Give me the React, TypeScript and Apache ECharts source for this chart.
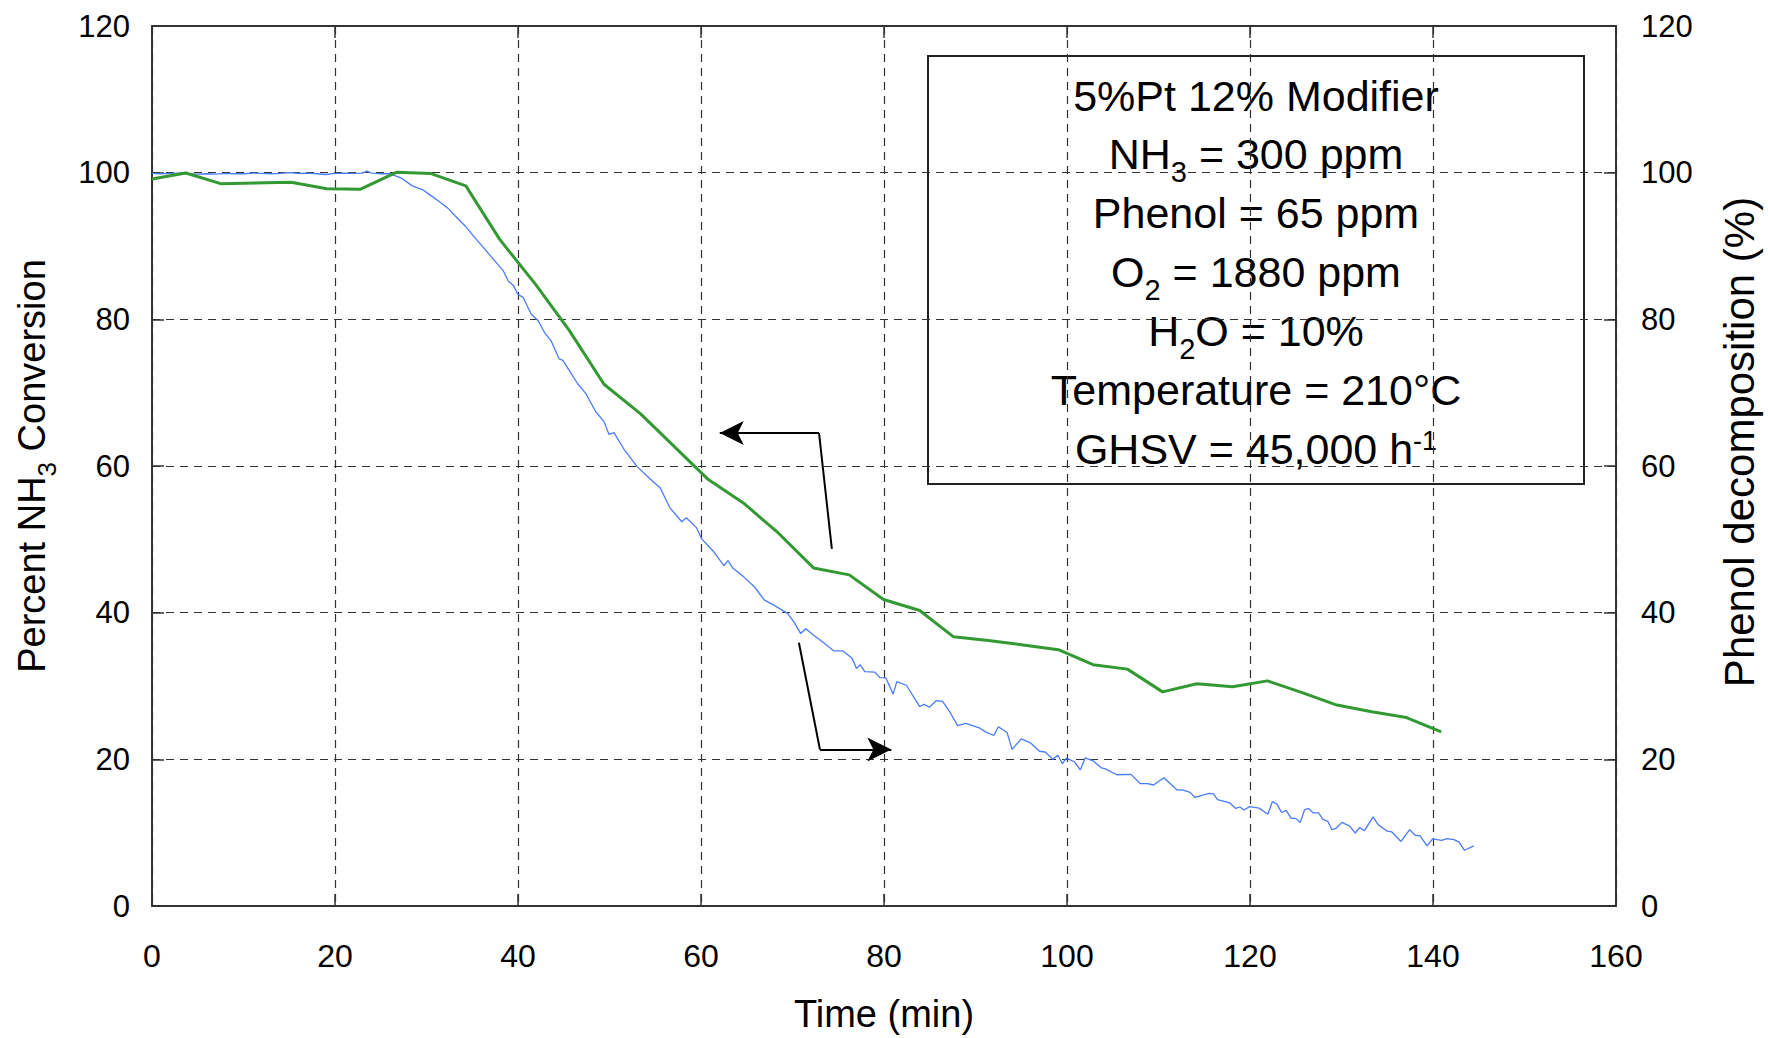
import React, { useEffect, useRef } from "react";
import * as echarts from "echarts";

// ---------- data ----------
const blueTime = [
  0, 1, 2, 3, 4, 5, 6, 7, 8, 9, 10, 11, 12, 13, 14, 15, 16, 17, 18, 19, 20, 21, 22, 23, 23.5, 24, 25, 26,
  27.2, 28.45, 29.55, 30.45, 31.35, 32.3, 33.15, 34.25, 35.3, 36.25,
  37.3, 38.4, 38.95, 39.5, 40.0, 40.55, 41.45, 42.2, 42.9, 43.6,
  44.5, 44.9, 45.6, 46.5, 47.4, 48.5, 49.4, 49.95, 50.5, 51.55,
  53.0, 54.3, 55.55, 56.6, 57.9, 58.4, 59.5, 60.05, 61.4, 62.5,
  62.95, 63.5, 64.7, 65.85, 66.9, 68.0, 69.45, 70.15, 70.9, 71.45,
  72.35, 73.3, 74.5, 75.5, 76.5, 77.0, 77.4, 77.9, 79.0, 79.55,
  80.2, 81.0, 81.4, 82.45, 83.9, 84.4, 84.95, 85.7, 86.4, 87.15,
  88.05, 88.95, 90.4, 91.1, 92.0, 92.5, 93.45, 94.0, 95.0, 96.0,
  97.0, 97.6, 98.45, 99.0, 99.5, 99.95, 100.85, 101.45, 102.0, 102.85,
  103.75, 104.2, 105.45, 107.0, 108.0, 108.8, 109.45, 110.6, 112.0, 112.7,
  113.45, 114.0, 115.5, 116.0, 116.45, 117.8, 118.45, 118.9, 119.35, 119.95,
  121.0, 121.95, 122.45, 122.95, 123.45, 123.95, 124.5, 125.0, 125.5, 125.95,
  126.4, 126.9, 127.5, 127.95, 128.5, 128.95, 129.4, 130.05, 130.9, 131.5,
  132.0, 132.5, 133.45, 134.0, 135.0, 135.5, 136.5, 137.45, 138.05, 138.6,
  139.35, 139.95, 140.95, 141.5, 142.3, 142.85, 143.45, 144.45,
];
const bluePhenol = [
  99.9, 99.85, 99.9, 99.95, 99.85, 99.8, 99.85, 99.8, 99.9, 99.85, 99.85, 99.95, 99.9, 99.85, 99.9, 100.0,
  99.9, 99.95, 99.85, 99.75, 99.9, 99.95, 99.9, 99.95, 100.2, 99.95, 99.85, 99.85,
  99.3, 98.2, 97.7, 96.9, 96.1, 95.2, 94.1, 92.7, 91.1, 89.75,
  88.2, 86.6, 85.2, 84.6, 83.4, 83.0, 80.7, 79.8, 78.2, 77.1,
  74.6, 74.4, 73.05, 71.25, 69.9, 67.4, 66.05, 64.3, 64.55, 62.35,
  59.95, 58.4, 57.0, 54.3, 52.4, 52.95, 51.6, 50.1, 48.3, 46.4,
  47.1, 46.05, 44.85, 43.5, 41.75, 41.0, 39.9, 38.75, 37.15, 37.8,
  36.9, 36.0, 34.8, 34.8, 33.8, 32.4, 32.9, 31.95, 31.9, 31.15,
  31.1, 28.9, 30.6, 30.1, 27.2, 27.5, 27.1, 28.0, 27.9, 26.55,
  24.6, 24.9, 24.3, 23.75, 23.25, 24.45, 23.65, 21.35, 22.8, 22.25,
  21.1, 21.0, 20.0, 20.55, 19.4, 20.2, 19.6, 18.55, 20.2, 19.8,
  18.85, 18.7, 17.9, 17.95, 16.7, 16.7, 16.5, 17.5, 15.85, 15.8,
  15.5, 14.8, 15.35, 15.3, 14.5, 14.05, 13.3, 13.5, 13.1, 13.55,
  13.35, 12.5, 14.25, 13.9, 12.75, 13.05, 11.95, 11.95, 11.4, 13.1,
  13.3, 12.7, 12.7, 11.85, 11.55, 10.4, 10.6, 11.4, 10.9, 9.95,
  10.7, 10.25, 12.15, 11.1, 10.2, 10.1, 8.8, 10.4, 9.65, 9.55,
  8.2, 9.15, 8.95, 9.2, 9.05, 8.7, 7.6, 8.2,
];

const greenTime = [
  0, 3.7, 7.5, 15.2, 19.1, 22.8, 26.7, 30.5, 34.3, 38.0, 41.9, 45.6, 49.4, 53.4, 57.2, 60.8, 64.75, 68.5,
  72.3, 76.2, 79.95, 83.9, 87.6, 91.4, 95.2, 99.05, 102.85, 106.6, 110.45, 114.2, 118.1, 121.9, 125.7,
  129.5, 133.3, 137.1, 140.9,
];
const greenNH3 = [
  99.15, 99.95, 98.5, 98.7, 97.8, 97.75, 100.05, 99.87, 98.2, 90.9, 84.8, 78.5, 71.15, 67.1, 62.5, 58.15,
  54.85, 50.8, 46.1, 45.15, 41.8, 40.3, 36.7, 36.2, 35.6, 34.95, 32.9, 32.3, 29.2, 30.3, 29.9, 30.7, 29.1,
  27.4, 26.5, 25.7, 23.75,
];

// arrows (data coordinates): start -> corner -> tip
const arrowLeft = [[74.3, 48.7], [72.9, 64.5], [62.05, 64.5]];
const arrowRight = [[70.7, 35.9], [73.0, 21.35], [80.8, 21.35]];

const xTicks = { min: 0, max: 160, interval: 20 };
const yTicks = { min: 0, max: 120, interval: 20 };

const boxLines = [
  "5%Pt 12% Modifier",
  "NH{sub|3} = 300 ppm",
  "Phenol = 65 ppm",
  "O{sub|2} = 1880 ppm",
  "H{sub|2}O = 10%",
  "Temperature = 210°C",
  "GHSV = 45,000 h{sup|-1}",
];

const FONT = "'Liberation Sans', Arial, Helvetica, sans-serif";

export default function App() {
  const ref = useRef<HTMLDivElement>(null);

  useEffect(() => {
    if (!ref.current) return;
    const chart = echarts.init(ref.current, null, { renderer: "svg" });

    const blueData = blueTime.map((t, i) => [t, bluePhenol[i]]);
    const greenData = greenTime.map((t, i) => [t, greenNH3[i]]);

    const axisLineStyle = { color: "#333", width: 2 };
    const tickStyle = { show: true, inside: true, length: 12, lineStyle: { color: "#333", width: 1.5 } };
    const gridLine = { show: true, lineStyle: { type: [8, 6], color: "#333", width: 1.2 } };

    const seg = (a: number[], b: number[], arrow: boolean) => [
      { coord: a, symbol: "none" },
      { coord: b, symbol: arrow ? "arrow" : "none" },
    ];

    const boxCx = 1256;
    const lineY0 = 95.5;
    const lineStep = 58.9;
    const richStyles = {
      sub: { fontSize: 29, fontFamily: FONT, fill: "#000", color: "#000", verticalAlign: "bottom", padding: [36, 0, 0, 0] },
      sup: { fontSize: 27, fontFamily: FONT, fill: "#000", color: "#000", verticalAlign: "top" },
    };

    const option: any = {
      animation: false,
      backgroundColor: "#ffffff",
      grid: { left: 152, right: 139, top: 26, bottom: 127, containLabel: false },
      xAxis: [
        {
          type: "value",
          ...xTicks,
          position: "bottom",
          name: "Time (min)",
          nameLocation: "middle",
          nameGap: 89,
          nameTextStyle: { fontSize: 38, fontFamily: FONT, color: "#000" },
          axisLine: { show: true, onZero: false, lineStyle: axisLineStyle },
          axisTick: tickStyle,
          axisLabel: { fontSize: 32, margin: 34, color: "#000", fontFamily: FONT },
          splitLine: gridLine,
        },
        {
          type: "value",
          ...xTicks,
          position: "top",
          axisLine: { show: true, onZero: false, lineStyle: axisLineStyle },
          axisTick: tickStyle,
          axisLabel: { show: false },
          splitLine: { show: false },
        },
      ],
      yAxis: [
        {
          type: "value",
          ...yTicks,
          position: "left",
          name: "Percent NH{sub|3} Conversion",
          nameLocation: "middle",
          nameRotate: 90,
          nameGap: 92,
          nameTextStyle: {
            fontSize: 38,
            fontFamily: FONT,
            color: "#000",
            rich: {
              sub: { fontSize: 26, fontFamily: FONT, color: "#000", verticalAlign: "bottom", padding: [30, 0, 0, 0] },
            },
          },
          axisLine: { show: true, onZero: false, lineStyle: axisLineStyle },
          axisTick: tickStyle,
          axisLabel: { fontSize: 31, margin: 22, color: "#000", fontFamily: FONT },
          splitLine: gridLine,
        },
        {
          type: "value",
          ...yTicks,
          position: "right",
          name: "Phenol decomposition (%)",
          nameLocation: "middle",
          nameRotate: 90,
          nameGap: 102,
          nameTextStyle: { fontSize: 42, fontFamily: FONT, color: "#000", padding: [0, 0, 0, 48] },
          axisLine: { show: true, onZero: false, lineStyle: axisLineStyle },
          axisTick: tickStyle,
          axisLabel: { fontSize: 31, margin: 25, color: "#000", fontFamily: FONT },
          splitLine: { show: false },
        },
      ],
      series: [
        {
          type: "line",
          name: "Phenol decomposition",
          xAxisIndex: 0,
          yAxisIndex: 1,
          data: blueData,
          symbol: "none",
          showSymbol: false,
          lineStyle: { color: "#4a7cf7", width: 1.3 },
          z: 3,
        },
        {
          type: "line",
          name: "NH3 conversion",
          xAxisIndex: 0,
          yAxisIndex: 0,
          data: greenData,
          symbol: "none",
          showSymbol: false,
          lineStyle: { color: "#339933", width: 3 },
          z: 4,
          markLine: {
            silent: true,
            animation: false,
            symbolSize: [18, 24],
            label: { show: false },
            emphasis: { disabled: true },
            lineStyle: { color: "#000", width: 2, type: "solid" },
            itemStyle: { color: "#000" },
            data: [
              seg(arrowLeft[0], arrowLeft[1], false),
              seg(arrowLeft[1], arrowLeft[2], true),
              seg(arrowRight[0], arrowRight[1], false),
              seg(arrowRight[1], arrowRight[2], true),
            ],
          },
        },
      ],
      graphic: [
        {
          type: "group",
          z: 100,
          children: [
            {
              type: "rect",
              shape: { x: 928, y: 56, width: 656, height: 428 },
              style: { fill: "#fff", stroke: "#222", lineWidth: 2 },
            },
            ...boxLines.map((txt, i) => ({
              type: "text",
              x: boxCx,
              y: lineY0 + i * lineStep,
              style: {
                text: txt,
                fontSize: 43,
                fontFamily: FONT,
                fill: "#000",
                align: "center",
                textAlign: "center",
                verticalAlign: "middle",
                textVerticalAlign: "middle",
                rich: richStyles,
              },
            })),
          ],
        },
      ],
    };

    chart.setOption(option);
    return () => chart.dispose();
  }, []);

  return (
    <div
      ref={ref}
      style={{ position: "fixed", left: 0, top: 0, width: 1768, height: 1038, background: "#fff" }}
    />
  );
}
